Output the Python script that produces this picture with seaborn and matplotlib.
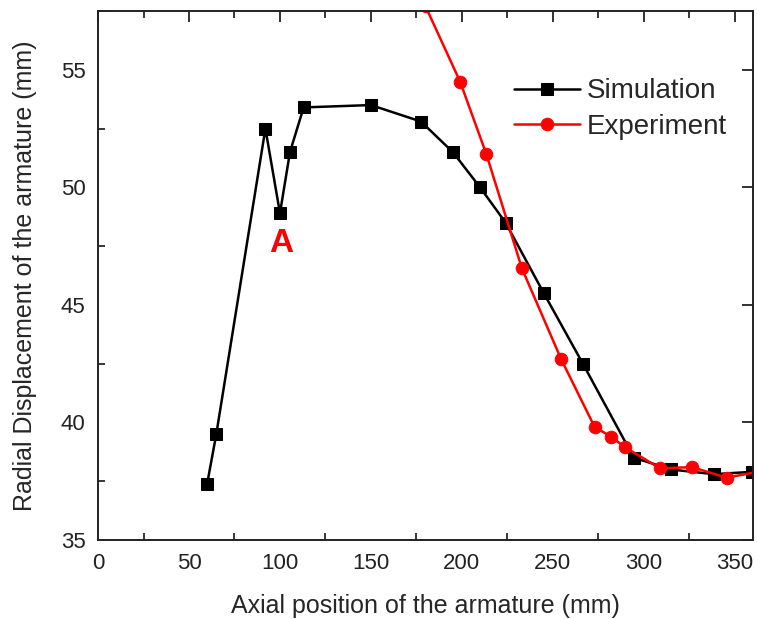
import matplotlib
matplotlib.use('Agg')
import matplotlib.pyplot as plt
from matplotlib.ticker import MultipleLocator
import pandas as pd
import seaborn as sns

# simulation curve
sim_x = [60, 65, 92, 100, 105.5, 113, 150, 177.5, 195, 210, 224, 245, 266.5, 294.5, 315, 338.5, 359.5]
sim_y = [37.4, 39.5, 52.5, 48.9, 51.5, 53.4, 53.5, 52.8, 51.5, 50.0, 48.5, 45.5, 42.5, 38.5, 38.0, 37.8, 37.9]

# experiment curve
exp_x = [180, 199, 213.5, 233, 254.5, 273, 282, 289.5, 309, 326.5, 345.5, 366]
exp_y = [57.7, 54.5, 51.4, 46.55, 42.7, 39.8, 39.4, 38.95, 38.05, 38.1, 37.65, 37.95]

sim = pd.DataFrame({"x": sim_x, "y": sim_y})
exp = pd.DataFrame({"x": exp_x, "y": exp_y})

sns.set_style("white")
plt.rcParams['font.family'] = ['Liberation Sans', 'DejaVu Sans']

fig = plt.figure(figsize=(7.57, 6.19), dpi=100)
ax = fig.add_axes([0.1295, 0.1276, 0.8652, 0.8546])

sns.lineplot(data=sim, x="x", y="y", ax=ax, color="black", marker="s",
             markersize=8, markeredgecolor="black", linewidth=1.8,
             sort=False, label="Simulation")
sns.lineplot(data=exp, x="x", y="y", ax=ax, color="#ff0000", marker="o",
             markersize=9, markeredgecolor="#ff0000", linewidth=1.8,
             sort=False, label="Experiment")

ax.set_xlim(0, 360)
ax.set_ylim(35, 57.5)
ax.xaxis.set_major_locator(MultipleLocator(50))
ax.xaxis.set_minor_locator(MultipleLocator(25))
ax.yaxis.set_major_locator(MultipleLocator(5))
ax.yaxis.set_minor_locator(MultipleLocator(2.5))

ax.tick_params(which='major', direction='in', length=8, width=1.3,
               top=True, right=True, labelsize=16, pad=9, colors='#222222')
ax.tick_params(which='minor', direction='in', length=5, width=1.3,
               top=True, right=False, bottom=True, left=True)
for s in ax.spines.values():
    s.set_linewidth(1.4)
    s.set_color('#222222')

ax.set_xlabel("Axial position of the armature (mm)", fontsize=18, labelpad=15)
ax.set_ylabel("Radial Displacement of the armature (mm)", fontsize=18, labelpad=17)

ax.text(100.5, 47.6, "A", color="#ff0000", fontsize=24, fontweight="bold",
        ha="center", va="center")

ax.legend(loc="upper right", bbox_to_anchor=(0.999, 0.92), frameon=False,
          fontsize=20, handlelength=2.4, handletextpad=0.25, labelspacing=0.35)

plt.savefig("out.png", dpi=100)
plt.close()
